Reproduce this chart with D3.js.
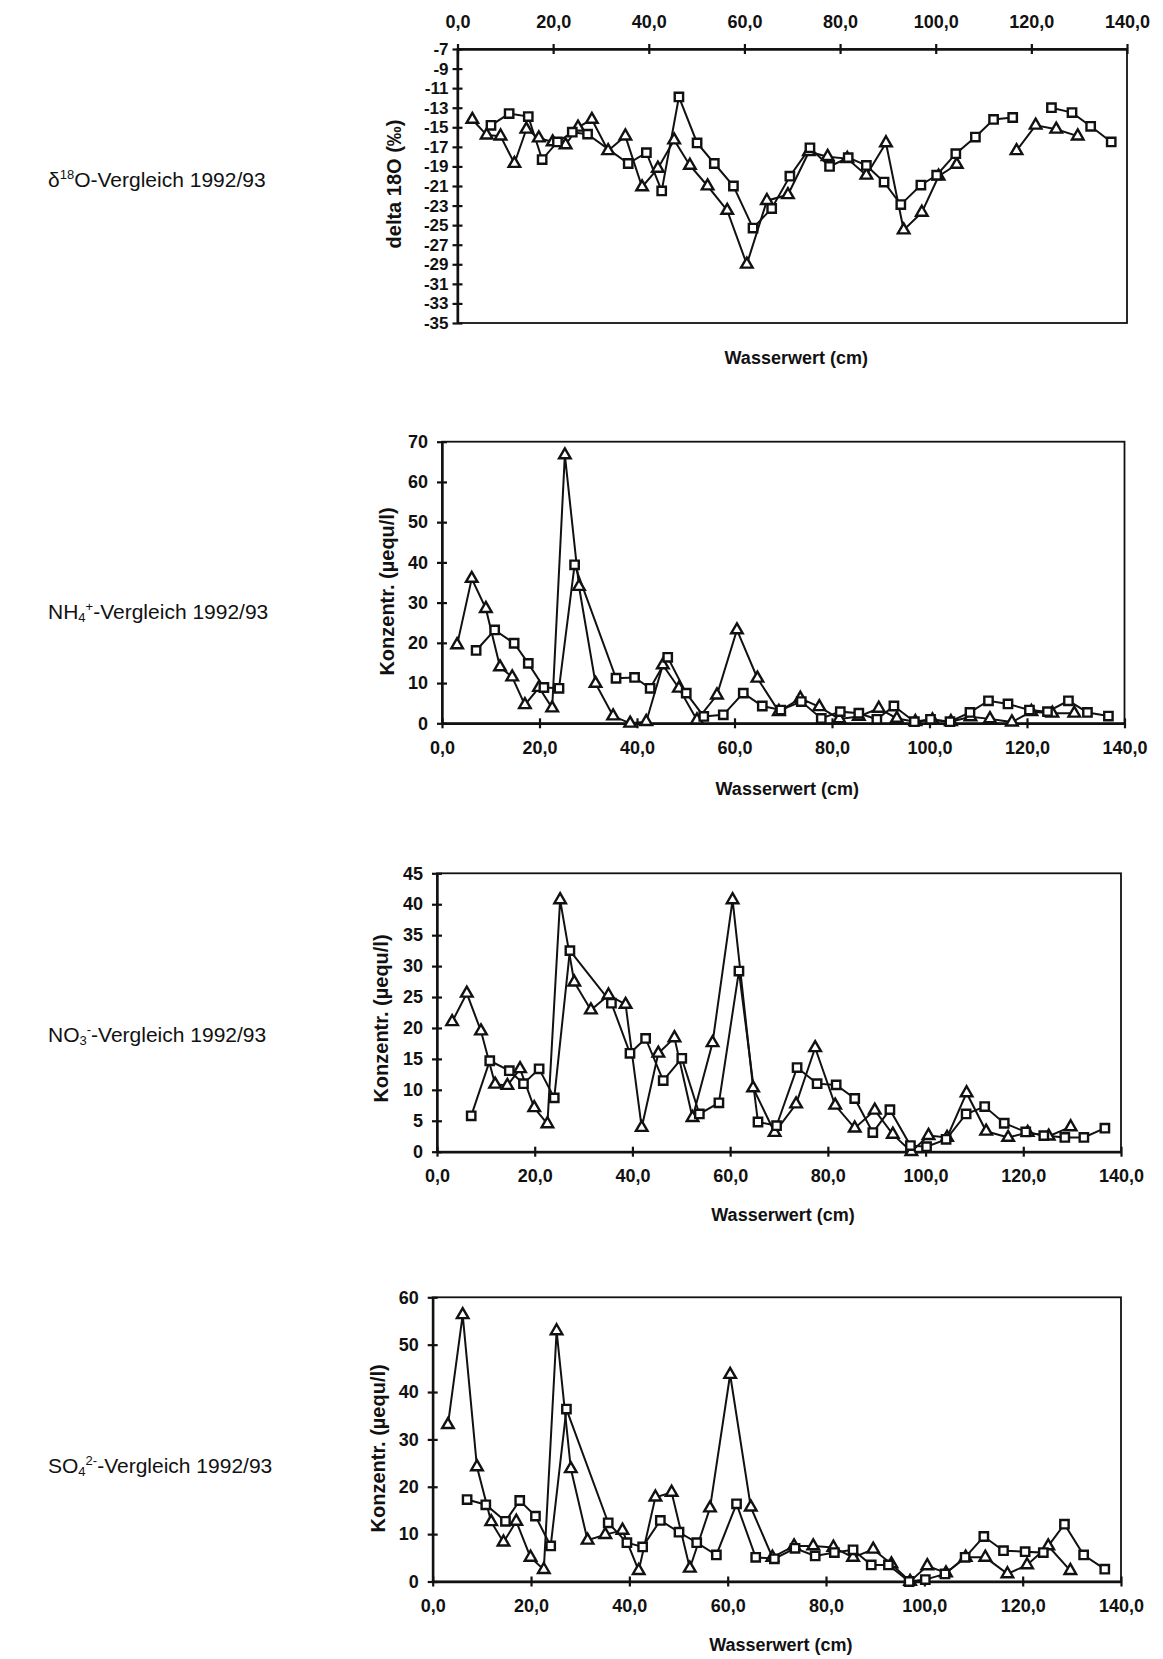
<!DOCTYPE html>
<html>
<head>
<meta charset="utf-8">
<script src="https://cdn.jsdelivr.net/npm/d3@7"></script>
<style>
  body { margin: 0; background: #fff; }
  svg { font-family: "Liberation Sans", Arial, sans-serif; }
</style>
</head>
<body>
<svg id="chart" width="1163" height="1659"></svg>
<script>
// sample positions (Wasserwert, cm) - triangle series and square series
const xTri = [3.1, 6.1, 9.0, 11.9, 14.4, 17.0, 19.9, 22.6, 25.2, 28.1, 31.5, 35.1, 38.6, 41.9, 45.3, 48.6,
              52.3, 56.4, 60.5, 64.7, 69.1, 73.5, 77.4, 81.5, 85.5, 89.6, 93.3, 97.1, 100.6, 104.4, 108.4,
              112.4, 116.9, 120.9, 125.2, 129.7];
const xSq = [7.0, 10.8, 14.8, 17.7, 20.9, 24.0, 27.2, 35.7, 39.5, 42.7, 46.3, 50.1, 53.7, 57.7, 61.8, 65.7,
             69.5, 73.7, 77.8, 81.7, 85.5, 89.2, 92.7, 96.9, 100.2, 104.2, 108.3, 112.1, 116.1, 120.5, 124.2,
             128.5, 132.4, 136.7];
const xTicks = [0, 20, 40, 60, 80, 100, 120, 140];

// delta 18O (permil)
const d18oTri = [-14.2, -15.8, -15.9, -18.7, -15.2, -16.1, -16.5, -16.8, -15.0, -14.2, -17.4, -15.9, -21.1, -19.2,
                 -16.3, -18.9, -21.0, -23.5, -29.0, -22.5, -21.9, -17.5, -18.0, -18.2, -19.9, -16.6, -25.5, -23.7,
                 -20.0, -18.8, null, null, -17.4, -14.8, -15.2, -15.9];
const d18oSq = [-14.8, -13.6, -13.9, -18.3, -16.5, -15.5, -15.7, -18.7, -17.6, -21.5, -11.9, -16.6, -18.7, -21.0,
                -25.3, -23.3, -20.0, -17.1, -19.0, -18.1, -18.9, -20.6, -22.9, -20.9, -19.9, -17.7, -16.0, -14.2,
                -14.0, null, -13.0, -13.5, -14.9, -16.5];

// NH4+ (µequ/l)
const nh4Tri = [19.5, 36.0, 28.5, 14.0, 11.5, 4.6, 8.9, 3.8, 66.7, 34.0, 9.9, 1.8, 0.0, 0.4, 14.5, 8.7, 0.8, 7.0,
                23.2, 11.2, 2.9, 6.2, 4.1, 1.1, 1.7, 3.7, 1.2, 0.4, 0.8, 0.4, 1.6, 1.1, 0.3, 2.9, 2.5, 2.5];
const nh4Sq = [18.1, 23.2, 19.9, 14.9, 8.9, 8.7, 39.4, 11.2, 11.4, 8.7, 16.4, 7.5, 1.7, 2.1, 7.5, 4.3, 3.3, 5.4,
               1.2, 2.9, 2.5, 1.0, 4.3, 0.4, 1.0, 0.4, 2.7, 5.6, 4.8, 3.3, 2.9, 5.6, 2.7, 1.8];

// NO3- (µequ/l)
const no3Tri = [21.0, 25.6, 19.5, 10.9, 10.7, 13.4, 7.1, 4.5, 40.7, 27.4, 22.9, 25.3, 23.8, 3.9, 15.9, 18.4, 5.5,
                17.6, 40.7, 10.3, 3.1, 7.7, 16.8, 7.5, 3.8, 6.7, 2.8, 0.0, 2.6, 2.3, 9.5, 3.3, 2.3, 3.1, 2.5, 4.0];
const no3Sq = [5.8, 14.7, 13.1, 11.0, 13.4, 8.7, 32.5, 24.0, 15.9, 18.3, 11.5, 15.1, 6.1, 7.9, 29.2, 4.8, 4.2,
               13.6, 11.0, 10.8, 8.6, 3.1, 6.8, 1.0, 0.8, 2.0, 6.1, 7.3, 4.6, 3.2, 2.6, 2.3, 2.3, 3.8];

// SO4 2- (µequ/l)
const so4Tri = [33.1, 56.3, 24.2, 12.6, 8.3, 12.7, 5.1, 2.5, 52.9, 23.8, 8.7, 9.9, 10.8, 2.3, 17.8, 18.8, 2.8,
                15.5, 43.7, 15.7, 5.1, 7.5, 7.5, 7.2, 5.1, 6.8, 3.7, 0.0, 3.3, 1.8, 5.1, 5.1, 1.6, 3.5, 7.5, 2.3];
const so4Sq = [17.3, 16.2, 12.7, 17.1, 13.8, 7.5, 36.4, 12.4, 8.2, 7.3, 12.9, 10.4, 8.2, 5.6, 16.4, 5.1, 4.8,
               7.0, 5.4, 6.1, 6.7, 3.5, 3.5, 0.0, 0.4, 1.6, 5.1, 9.5, 6.5, 6.3, 6.1, 12.1, 5.6, 2.6];

const panels = [
  { label: [["δ"], ["18", "sup"], ["O-Vergleich 1992/93"]], labelY: 187,
    tri: d18oTri, sq: d18oSq, yDomain: [-35, -7], yStep: 2,
    left: 457.5, right: 1127, top: 49, bottom: 323, xTop: true,
    yTitle: "delta 18O (‰)", yTitleX: 401, yTitleShift: -2, xTitleY: 364 },
  { label: [["NH"], ["4", "sub"], ["+", "sup"], ["-Vergleich 1992/93"]], labelY: 619,
    tri: nh4Tri, sq: nh4Sq, yDomain: [0, 70], yStep: 10,
    left: 442, right: 1124.5, top: 441.7, bottom: 723.3, xTop: false,
    yTitle: "Konzentr. (µequ/l)", yTitleX: 394, yTitleShift: 9, xTitleY: 795 },
  { label: [["NO"], ["3", "sub"], ["-", "sup"], ["-Vergleich 1992/93"]], labelY: 1042,
    tri: no3Tri, sq: no3Sq, yDomain: [0, 45], yStep: 5,
    left: 437, right: 1121, top: 873.3, bottom: 1151.7, xTop: false,
    yTitle: "Konzentr. (µequ/l)", yTitleX: 388, yTitleShift: 6, xTitleY: 1221 },
  { label: [["SO"], ["4", "sub"], ["2-", "sup"], ["-Vergleich 1992/93"]], labelY: 1473,
    tri: so4Tri, sq: so4Sq, yDomain: [0, 60], yStep: 10,
    left: 432.7, right: 1121, top: 1297.3, bottom: 1581.5, xTop: false,
    yTitle: "Konzentr. (µequ/l)", yTitleX: 385, yTitleShift: 9, xTitleY: 1651 }
];

const svg = d3.select("#chart");
const fmtX = d => d.toFixed(1).replace(".", ",");
const tickFont = 18;

panels.forEach(p => {
  const x = d3.scaleLinear().domain([0, 140]).range([p.left, p.right]);
  const y = d3.scaleLinear().domain(p.yDomain).range([p.bottom, p.top]);
  const g = svg.append("g");

  // left-hand caption
  const cap = svg.append("text").attr("x", 48).attr("y", p.labelY)
    .style("font-size", "21px").attr("fill", "#111");
  p.label.forEach(([t, kind]) => {
    const ts = cap.append("tspan").text(t);
    if (kind === "sup") ts.style("font-size", "13px").attr("baseline-shift", "65%");
    if (kind === "sub") ts.style("font-size", "13px").attr("baseline-shift", "-25%");
  });

  // plot frame
  g.append("rect").attr("x", p.left).attr("y", p.top)
    .attr("width", p.right - p.left).attr("height", p.bottom - p.top)
    .attr("fill", "none").attr("stroke", "#111").attr("stroke-width", 1.8);

  // x axis
  const xAxis = (p.xTop ? d3.axisTop(x) : d3.axisBottom(x))
    .tickValues(xTicks).tickFormat(fmtX).tickSizeInner(5).tickSizeOuter(0).tickPadding(p.xTop ? 16 : 13);
  const gx = g.append("g").attr("transform", `translate(0,${p.xTop ? p.top : p.bottom})`).call(xAxis);
  gx.selectAll(".tick line").attr("y1", p.xTop ? 5 : -5);

  // y axis
  const yTicks = d3.range(p.yDomain[0], p.yDomain[1] + 0.001, p.yStep);
  const yAxis = d3.axisLeft(y).tickValues(yTicks).tickFormat(d => String(d))
    .tickSizeInner(5).tickSizeOuter(0).tickPadding(p.xTop ? 4 : 9);
  const gy = g.append("g").attr("transform", `translate(${p.left},0)`).call(yAxis);
  gy.selectAll(".tick line").attr("x1", 5);

  [gx, gy].forEach(a => {
    a.select(".domain").attr("stroke", "#111").attr("stroke-width", 2.4);
    a.selectAll(".tick line").attr("stroke", "#111").attr("stroke-width", 2.2);
    a.selectAll(".tick text").attr("fill", "#111")
      .style("font-size", tickFont + "px").style("font-weight", "bold")
      .style("font-family", "Liberation Sans, Arial, sans-serif");
  });
  if (p.xTop) gy.selectAll(".tick text").style("font-size", "17px");

  // axis titles
  g.append("text").attr("x", (p.left + p.right) / 2 + 4).attr("y", p.xTitleY)
    .attr("text-anchor", "middle").style("font-size", "18px").style("font-weight", "bold")
    .attr("fill", "#111").text("Wasserwert (cm)");
  g.append("text")
    .attr("transform", `translate(${p.yTitleX},${(p.top + p.bottom) / 2 + p.yTitleShift}) rotate(-90)`)
    .attr("text-anchor", "middle").style("font-size", "20px").style("font-weight", "bold")
    .attr("fill", "#111").text(p.yTitle);

  // series
  const triPts = xTri.map((v, i) => ({ x: v, y: p.tri[i] }));
  const sqPts = xSq.map((v, i) => ({ x: v, y: p.sq[i] }));
  const line = d3.line().defined(d => d.y != null).x(d => x(d.x)).y(d => y(d.y));

  [triPts, sqPts].forEach(pts => {
    g.append("path").datum(pts).attr("d", line)
      .attr("fill", "none").attr("stroke", "#111").attr("stroke-width", 2);
  });

  const triSym = d3.symbol(d3.symbolTriangle, 58);
  const sqSym = d3.symbol(d3.symbolSquare, 70);

  g.append("g").selectAll("path").data(triPts.filter(d => d.y != null)).join("path")
    .attr("transform", d => `translate(${x(d.x)},${y(d.y)})`)
    .attr("d", triSym).attr("fill", "#fff").attr("stroke", "#111").attr("stroke-width", 2.4);

  g.append("g").selectAll("path").data(sqPts.filter(d => d.y != null)).join("path")
    .attr("transform", d => `translate(${x(d.x)},${y(d.y)})`)
    .attr("d", sqSym).attr("fill", "#fff").attr("stroke", "#111").attr("stroke-width", 2.4);
});
</script>
</body>
</html>
